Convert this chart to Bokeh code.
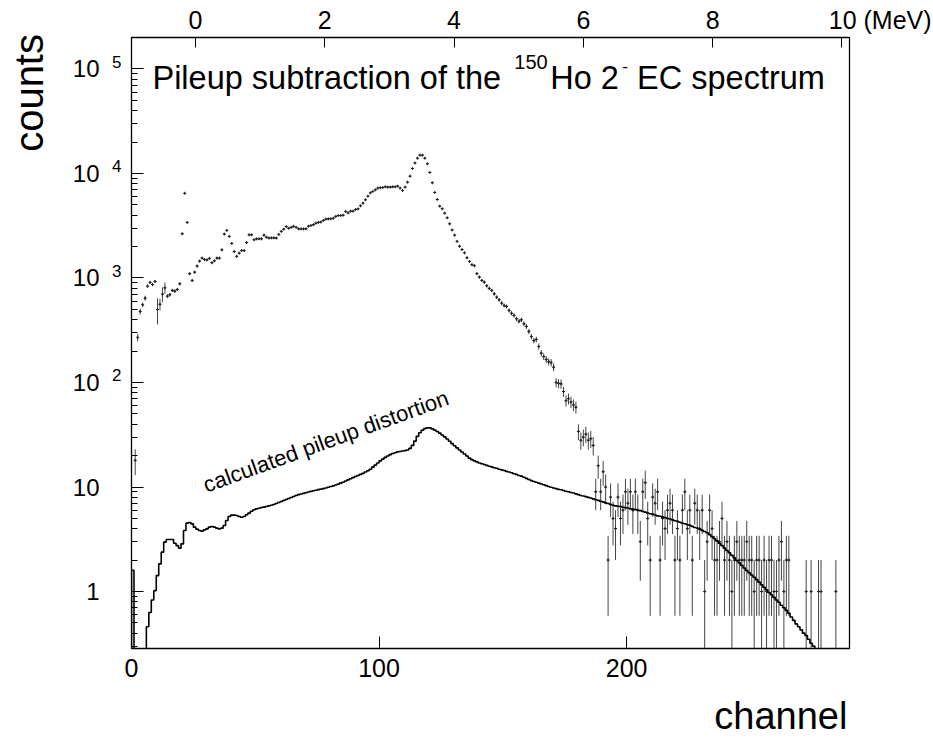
import numpy as np
from bokeh.plotting import figure
from bokeh.models import (Range1d, LinearAxis, LogAxis, LogScale, FixedTicker, Label,
                          ColumnDataSource)
from bokeh.embed import file_html
from bokeh.resources import INLINE

# ---------------- data ----------------
channel_ticks = [0, 100, 200]
mev_ticks = [0, 2, 4, 6, 8, 10]
count_ticks = [1, 10, 100, 1000, 10000, 100000]
count_minor = [m * 10.0 ** e for e in range(-1, 6) for m in range(2, 10)]
count_base_labels = {1: "1", 10: "10", 100: "10", 1000: "10", 10000: "10", 100000: "10"}
count_exp_labels = {100: "2", 1000: "3", 10000: "4", 100000: "5"}

# measured spectrum, channel 1 .. 284 (counts per channel)
meas_first_channel = 1
meas_counts = [
    18, 270, 478, 554, 641, 835, 906, 866, 926, 500,
    560, 700, 805, 670, 692, 760, 748, 776, 880, 2650,
    6460, 3400, 1100, 946, 1137, 1300, 1450, 1550, 1500, 1490,
    1540, 1400, 1460, 1550, 1550, 1860, 2630, 2850, 2500, 2140,
    1790, 1610, 1730, 1830, 1830, 2180, 2590, 2590, 2320, 2370,
    2370, 2370, 2570, 2460, 2410, 2420, 2420, 2410, 2610, 2790,
    2930, 3100, 2990, 3050, 3120, 3050, 2950, 2950, 2950, 2960,
    3130, 3180, 3240, 3350, 3400, 3430, 3550, 3660, 3680, 3690,
    3730, 3880, 3960, 3960, 3990, 4330, 4200, 4360, 4360, 4520,
    4590, 4910, 5200, 5600, 6060, 6530, 6730, 6980, 7240, 7310,
    7340, 7460, 7400, 7400, 7460, 7460, 7560, 7240, 6870, 7400,
    8260, 9420, 11160, 12600, 14000, 14970, 14970, 14000, 12380, 10230,
    8150, 6580, 5640, 4870, 4600, 4170, 3770, 3300, 2880, 2570,
    2240, 2010, 1870, 1740, 1560, 1440, 1340, 1310, 1100, 1020,
    947, 912, 842, 794, 760, 706, 655, 618, 574, 546,
    534, 489, 460, 438, 407, 386, 398, 365, 344, 308,
    275, 252, 258, 221, 191, 177, 166, 158, 155, 140,
    100, 98, 97, 82, 67, 70, 65, 61, 58, 34,
    28, 30, 32, 28, 29, 25, 9, 16, 9, 14,
    10, 2, 8, 5, 4, 8, 5, 6, 9, 7,
    9, 6, 9, 6, 3, 9, 11, 5, 2, 8,
    7, 9, 2, 5, 4, 6, 7, 6, 2, 4,
    2, 6, 9, 4, 6, 2, 7, 6, 4, 6,
    1, 3, 6, 4, 2, 2, 3, 5, 2, 3,
    2, 1, 2, 3, 2, 2, 2, 3, 2, 2,
    1, 2, 2, 1, 2, 1, 2, 2, 1, 1,
    2, 3, 1, 2, 2, 0, 0, 0, 0, 0,
    0, 1, 0, 1, 0, 0, 1, 1, 0, 0,
    0, 0, 0, 1,
]
# larger (non-Poisson) error bars read off the first channels
meas_err_override = {1: 5, 2: 22, 3: 30, 4: 28, 5: 35, 10: 140, 11: 72, 12: 115, 13: 100}

# calculated pileup distortion, channel 0 .. 277
pileup_counts = [
    1.6, 0, 0, 0, 0, 0, 0.46, 0.63, 0.83, 1.02,
    1.42, 1.84, 2.38, 2.97, 3.15, 3.15, 3.15, 2.90, 2.75, 2.60,
    2.86, 3.84, 4.51, 4.57, 4.44, 4.13, 3.95, 3.84, 3.78, 3.89,
    3.98, 4.13, 4.19, 4.13, 4.04, 3.98, 4.04, 4.28, 4.78, 5.22,
    5.38, 5.38, 5.34, 5.22, 5.14, 5.22, 5.42, 5.62, 5.87, 6.05,
    6.18, 6.27, 6.37, 6.42, 6.51, 6.60, 6.70, 6.80, 6.95, 7.11,
    7.27, 7.43, 7.59, 7.76, 7.94, 8.11, 8.29, 8.45, 8.58, 8.70,
    8.82, 8.95, 9.08, 9.20, 9.32, 9.45, 9.55, 9.65, 9.80, 9.95,
    10.1, 10.25, 10.45, 10.65, 10.9, 11.1, 11.4, 11.7, 12.0, 12.3,
    12.6, 12.9, 13.2, 13.5, 13.9, 14.3, 14.8, 15.5, 16.2, 17.0,
    17.8, 18.5, 19.2, 19.8, 20.4, 20.9, 21.3, 21.7, 21.9, 22.1,
    22.3, 22.6, 23.4, 25.0, 27.5, 30.5, 33.0, 35.0, 36.2, 36.8,
    36.8, 36.0, 35.0, 34.0, 32.8, 31.5, 30.2, 28.8, 27.4, 26.0,
    24.8, 23.7, 22.6, 21.6, 20.7, 19.8, 18.9, 18.3, 17.8, 17.4,
    17.0, 16.7, 16.4, 16.1, 15.8, 15.6, 15.3, 15.1, 14.8, 14.6,
    14.4, 14.1, 13.9, 13.7, 13.4, 13.2, 12.9, 12.7, 12.4, 12.1,
    11.8, 11.5, 11.3, 11.1, 10.9, 10.7, 10.5, 10.3, 10.1, 9.95,
    9.8, 9.65, 9.5, 9.4, 9.25, 9.1, 9.0, 8.85, 8.75, 8.6,
    8.45, 8.3, 8.2, 8.1, 7.95, 7.85, 7.7, 7.55, 7.45, 7.3,
    7.2, 7.05, 6.95, 6.8, 6.7, 6.6, 6.55, 6.5, 6.4, 6.35,
    6.3, 6.2, 6.15, 6.1, 6.0, 5.95, 5.85, 5.75, 5.65, 5.55,
    5.5, 5.4, 5.3, 5.25, 5.15, 5.1, 5.0, 4.95, 4.85, 4.75,
    4.7, 4.6, 4.5, 4.45, 4.35, 4.3, 4.2, 4.1, 4.05, 3.95,
    3.85, 3.75, 3.65, 3.5, 3.35, 3.2, 3.05, 2.9, 2.75, 2.6,
    2.47, 2.35, 2.22, 2.1, 1.98, 1.88, 1.78, 1.68, 1.59, 1.51,
    1.44, 1.37, 1.3, 1.23, 1.16, 1.1, 1.04, 0.98, 0.93, 0.88,
    0.83, 0.79, 0.74, 0.70, 0.66, 0.62, 0.57, 0.53, 0.49, 0.46,
    0.43, 0.40, 0.38, 0.35, 0.32, 0.30, 0.28, 0.27,
]

# energy calibration of the upper axis (channel = MEV_OFFSET + MEV_GAIN * E)
MEV_OFFSET = 25.83
MEV_GAIN = 26.114

# ---------------- figure ----------------
X_MIN, X_MAX = 0.0, 290.0
Y_MIN, Y_MAX = 0.285, 2.0e5
FONT = "Liberation Sans"
PX_PER_DECADE = 104.5
NB = "\u00a0"

p = figure(width=933, height=742, output_backend="svg", toolbar_location=None,
           x_range=Range1d(X_MIN, X_MAX), y_range=Range1d(Y_MIN, Y_MAX),
           y_axis_type="log", x_axis_location="below",
           min_border_left=131, min_border_right=84, min_border_top=37, min_border_bottom=94)
p.background_fill_color = "white"
p.border_fill_color = "white"
p.outline_line_color = "black"
p.outline_line_width = 1.3
p.xgrid.visible = False
p.ygrid.visible = False

# bottom axis (channel); its title is pushed to the right end with no-break spaces
xa = p.xaxis[0]
xa.ticker = FixedTicker(ticks=channel_ticks)
xa.major_tick_in = 12
xa.major_tick_out = 0
xa.minor_tick_line_color = None
xa.axis_line_color = "black"
xa.major_label_text_font = FONT
xa.major_label_text_font_size = "25px"
xa.major_label_text_color = "black"
xa.major_label_standoff = 10
xa.axis_label = NB * 55 + "channel"
xa.axis_label_text_font = FONT
xa.axis_label_text_font_size = "38px"
xa.axis_label_text_font_style = "normal"
xa.axis_label_text_color = "black"
xa.axis_label_standoff = 15

# left axis 1: tick marks only (log), empty labels
ya = p.yaxis[0]
ya.ticker = FixedTicker(ticks=count_ticks, minor_ticks=count_minor)
ya.major_tick_in = 12
ya.major_tick_out = 0
ya.minor_tick_in = 6
ya.minor_tick_out = 0
ya.axis_line_color = "black"
ya.major_label_text_font = FONT
ya.major_label_text_font_size = "10px"
ya.major_label_overrides = {t: "" for t in count_ticks}
ya.major_label_standoff = 0

# left axis 2: exponents, raised a few pixels above the decade
sup_shift = 10.0 ** (7.0 / PX_PER_DECADE)
p.extra_y_ranges = {"sup": Range1d(Y_MIN / sup_shift, Y_MAX / sup_shift)}
p.extra_y_scales = {"sup": LogScale()}
ea = LogAxis(y_range_name="sup", ticker=FixedTicker(ticks=list(count_exp_labels.keys())))
ea.major_label_overrides = count_exp_labels
ea.axis_line_color = None
ea.major_tick_line_color = None
ea.minor_tick_line_color = None
ea.major_label_text_font = FONT
ea.major_label_text_font_size = "17px"
ea.major_label_text_color = "black"
ea.major_label_standoff = 4
p.add_layout(ea, "left")

# left axis 3: the mantissas "10" / "1", plus the "counts" title at the top end
ba = LogAxis(ticker=FixedTicker(ticks=count_ticks))
ba.major_label_overrides = count_base_labels
ba.axis_line_color = None
ba.major_tick_line_color = None
ba.minor_tick_line_color = None
ba.major_label_text_font = FONT
ba.major_label_text_font_size = "24px"
ba.major_label_text_color = "black"
ba.major_label_standoff = 4
ba.axis_label = NB * 45 + "counts"
ba.axis_label_text_font = FONT
ba.axis_label_text_font_size = "40px"
ba.axis_label_text_font_style = "normal"
ba.axis_label_text_color = "black"
ba.axis_label_standoff = 19
p.add_layout(ba, "left")

# top axis (MeV)
p.extra_x_ranges = {"mev": Range1d((X_MIN - MEV_OFFSET) / MEV_GAIN, (X_MAX - MEV_OFFSET) / MEV_GAIN)}
ta = LinearAxis(x_range_name="mev", ticker=FixedTicker(ticks=mev_ticks))
ta.major_tick_in = 10
ta.major_tick_out = 0
ta.minor_tick_line_color = None
ta.axis_line_color = "black"
ta.major_label_text_font = FONT
ta.major_label_text_font_size = "25px"
ta.major_label_text_color = "black"
ta.major_label_standoff = 4
ta.major_label_overrides = {10: NB * 11 + "10" + NB + "(MeV)"}
p.add_layout(ta, "above")

# ---------------- measured spectrum with error bars ----------------
mc = np.array(meas_counts, dtype=float)
mch = np.arange(meas_first_channel, meas_first_channel + len(mc)) + 0.5
err = np.sqrt(mc)
for ch, e in meas_err_override.items():
    err[ch - meas_first_channel] = e
ok = mc > 0
lo = np.where(mc[ok] - err[ok] > 0, mc[ok] - err[ok], 1e-3)
hi = mc[ok] + err[ok]
src = ColumnDataSource(dict(x=mch[ok], y=mc[ok], lo=lo, hi=hi,
                            xl=mch[ok] - 0.45, xr=mch[ok] + 0.45))
p.segment(x0="x", y0="lo", x1="x", y1="hi", source=src, line_color="#444444", line_width=1)
p.segment(x0="xl", y0="y", x1="xr", y1="y", source=src, line_color="#333333", line_width=1)
p.scatter(x="x", y="y", source=src, marker="cross", size=3, line_color="#222222", line_width=1)

# ---------------- calculated pileup (step histogram) ----------------
pc = np.array(pileup_counts, dtype=float)
floor = 1e-3
pcy = np.where(pc > 0, pc, floor)
step_x = np.concatenate([[0.0], np.arange(len(pc) + 1, dtype=float)])
step_y = np.concatenate([[floor], pcy, [floor]])
p.step(x=step_x, y=step_y, mode="after", line_color="black", line_width=1.6)

# ---------------- texts inside the frame ----------------
def lab(text, x, y, size, angle=0.0, align="left", baseline="alphabetic"):
    p.add_layout(Label(x=x, y=y, text=text, text_font=FONT, text_font_size=size,
                       text_color="black", angle=angle, text_align=align,
                       text_baseline=baseline))

# title pieces:  Pileup subtraction of the ^150Ho 2^- EC spectrum
lab("Pileup subtraction of the", 8.47, 81100, "32.5px")
lab("150", 154.6, 115400, "20px")
lab("Ho 2", 169.1, 81100, "32.5px")
lab("-", 198.2, 105700, "17px")
lab("EC spectrum", 204.2, 81100, "32.5px")

# curve annotation
lab("calculated pileup distortion", 29.3, 10.3, "22px", angle=np.deg2rad(20.0))

open("out.html", "w").write(file_html(p, INLINE))
